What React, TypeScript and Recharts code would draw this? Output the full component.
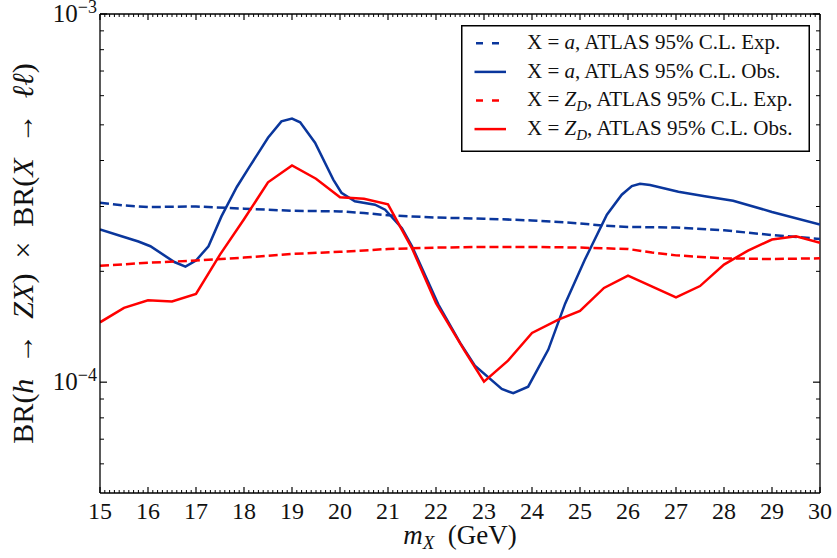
import React from 'react';
import { LineChart, Line, XAxis, YAxis, Legend, Label, ReferenceLine } from 'recharts';

const FONT = "'Liberation Serif', 'DejaVu Serif', serif";
const BLUE = '#0a369c';
const RED = '#ff0000';
const INK = '#111';

// Mass points m_X (GeV) and 95% C.L. upper limits, in units of 1e-4
const aExpMass = [15, 15.5, 16, 17, 18, 19, 20, 20.5, 21, 21.5, 22, 23, 24, 25, 25.5, 26, 27, 28, 29, 30];
const aExpLimit = [3.07, 3.02, 2.99, 3.0, 2.96, 2.92, 2.91, 2.88, 2.84, 2.82, 2.8, 2.78, 2.75, 2.7, 2.66, 2.64, 2.63, 2.585, 2.51, 2.45];

const aObsMass = [15, 15.45, 15.8, 16.05, 16.55, 16.78, 17.0, 17.26, 17.53, 17.85, 18.1, 18.5, 18.78, 19.0, 19.17, 19.48, 19.86, 20.03, 20.31, 20.73, 20.94, 21.29, 21.5, 22.05, 22.5, 22.81, 23.37, 23.61, 23.92, 24.34, 24.69, 25.1, 25.56, 25.87, 26.08, 26.25, 26.46, 27.05, 27.6, 28.19, 29.0, 30];
const aObsLimit = [2.6, 2.49, 2.41, 2.34, 2.12, 2.06, 2.14, 2.34, 2.82, 3.39, 3.82, 4.61, 5.11, 5.2, 5.08, 4.47, 3.55, 3.27, 3.1, 3.035, 2.94, 2.62, 2.34, 1.625, 1.28, 1.109, 0.958, 0.933, 0.972, 1.226, 1.634, 2.15, 2.85, 3.23, 3.41, 3.46, 3.43, 3.29, 3.2, 3.11, 2.9, 2.68];

const zdExpMass = [15, 16, 17, 18, 19, 20, 21, 22, 23, 24, 25, 26, 26.5, 27, 28, 29, 30];
const zdExpLimit = [2.07, 2.11, 2.14, 2.18, 2.23, 2.26, 2.3, 2.32, 2.33, 2.33, 2.32, 2.3, 2.25, 2.21, 2.17, 2.16, 2.17];

const zdObsMass = [15, 15.5, 16, 16.5, 17, 17.5, 18, 18.5, 19, 19.5, 20, 20.5, 21, 21.5, 22, 22.6, 23, 23.5, 24, 24.55, 25, 25.5, 26, 27, 27.5, 28, 28.5, 29, 29.5, 30];
const zdObsLimit = [1.454, 1.592, 1.668, 1.657, 1.736, 2.22, 2.77, 3.49, 3.88, 3.57, 3.18, 3.15, 3.04, 2.31, 1.64, 1.215, 1.003, 1.144, 1.36, 1.479, 1.561, 1.803, 1.948, 1.7, 1.824, 2.086, 2.277, 2.44, 2.49, 2.39];

// Axis ticks
const massTicks = [15, 16, 17, 18, 19, 20, 21, 22, 23, 24, 25, 26, 27, 28, 29, 30];
const minorMassTicks = Array.from({ length: 151 }, (_, i) => Math.round((15 + i * 0.1) * 10) / 10).filter(
  (v) => !massTicks.includes(v)
);
const limitTicks = [1e-4, 1e-3];
const limitExponents = [-4, -3];
const minorLimitTicks = [6e-5, 7e-5, 8e-5, 9e-5, 2e-4, 3e-4, 4e-4, 5e-4, 6e-4, 7e-4, 8e-4, 9e-4];

const MASS_DOMAIN: [number, number] = [15, 30];
const LIMIT_DOMAIN: [number, number] = [5e-5, 1e-3];

const toRows = (mass: number[], limit: number[]) => mass.map((m, i) => ({ mass: m, limit: limit[i] * 1e-4 }));

type Series = {
  key: string;
  rows: { mass: number; limit: number }[];
  color: string;
  dashed: boolean;
  particle: 'a' | 'ZD';
  kind: string;
};

const series: Series[] = [
  { key: 'aExp', rows: toRows(aExpMass, aExpLimit), color: BLUE, dashed: true, particle: 'a', kind: 'Exp.' },
  { key: 'aObs', rows: toRows(aObsMass, aObsLimit), color: BLUE, dashed: false, particle: 'a', kind: 'Obs.' },
  { key: 'zdExp', rows: toRows(zdExpMass, zdExpLimit), color: RED, dashed: true, particle: 'ZD', kind: 'Exp.' },
  { key: 'zdObs', rows: toRows(zdObsMass, zdObsLimit), color: RED, dashed: false, particle: 'ZD', kind: 'Obs.' },
];

// Inward tick marks on both ends of a vertical reference line (x ticks, top and bottom edges)
const xTickMarks = (len: number, width: number) => (p: any) => {
  const top = Math.min(p.y1, p.y2);
  const bottom = Math.max(p.y1, p.y2);
  return (
    <g>
      <line x1={p.x1} x2={p.x1} y1={bottom} y2={bottom - len} stroke="#000" strokeWidth={width} />
      <line x1={p.x1} x2={p.x1} y1={top} y2={top + len} stroke="#000" strokeWidth={width} />
    </g>
  );
};

// Inward tick marks on both ends of a horizontal reference line (y ticks, left and right edges)
const yTickMarks = (len: number, width: number) => (p: any) => {
  const left = Math.min(p.x1, p.x2);
  const right = Math.max(p.x1, p.x2);
  return (
    <g>
      <line x1={left} x2={left + len} y1={p.y1} y2={p.y1} stroke="#000" strokeWidth={width} />
      <line x1={right} x2={right - len} y1={p.y1} y2={p.y1} stroke="#000" strokeWidth={width} />
    </g>
  );
};

const PowerTick = (props: any) => {
  const { x, y, payload } = props;
  const idx = limitTicks.findIndex((t) => Math.abs(t - payload.value) / t < 1e-6);
  const exp = idx >= 0 ? limitExponents[idx] : Math.round(Math.log10(payload.value));
  return (
    <text x={x} y={y + 8} textAnchor="end" fontFamily={FONT} fontSize={25} fill={INK}>
      <tspan>10</tspan>
      <tspan dy={-9} fontSize={18}>{'\u2212' + Math.abs(exp)}</tspan>
    </text>
  );
};

const LegendBox = () => (
  <svg width={350} height={128} style={{ display: 'block' }}>
    <rect x={0.75} y={0.75} width={347.5} height={125.5} fill="#fff" stroke="#000" strokeWidth={1.5} />
    {series.map((s, i) => {
      const cy = 18.3 + i * 28.6;
      return (
        <g key={s.key}>
          {s.dashed ? (
            <line x1={15} x2={38} y1={cy} y2={cy} stroke={s.color} strokeWidth={2.5} strokeDasharray="7 9" />
          ) : (
            <line x1={13.5} x2={45} y1={cy} y2={cy} stroke={s.color} strokeWidth={2.5} />
          )}
          <text x={66} y={cy + 5.8} fontFamily={FONT} fontSize={21} fill={INK}>
            <tspan>{'X = '}</tspan>
            {s.particle === 'a' ? (
              <>
                <tspan fontStyle="italic">a</tspan>
                <tspan>{', ATLAS 95% C.L. ' + s.kind}</tspan>
              </>
            ) : (
              <>
                <tspan fontStyle="italic">Z</tspan>
                <tspan fontStyle="italic" fontSize={15} dy={5}>D</tspan>
                <tspan dy={-5}>{', ATLAS 95% C.L. ' + s.kind}</tspan>
              </>
            )}
          </text>
        </g>
      );
    })}
  </svg>
);

const XTitle = (props: any) => {
  const { viewBox } = props;
  const cx = viewBox.x + viewBox.width / 2;
  return (
    <text x={cx} y={viewBox.y + 51} textAnchor="middle" fontFamily={FONT} fontSize={27} fill={INK}>
      <tspan fontStyle="italic">m</tspan>
      <tspan fontStyle="italic" fontSize={19} dy={5}>X</tspan>
      <tspan dy={-5}>{'\u2002(GeV)'}</tspan>
    </text>
  );
};

const YTitle = (props: any) => {
  const { viewBox } = props;
  const cy = viewBox.y + viewBox.height / 2;
  const bx = 33;
  return (
    <text
      x={bx}
      y={cy}
      transform={`rotate(-90, ${bx}, ${cy})`}
      textAnchor="middle"
      fontFamily={FONT}
      fontSize={30}
      fill={INK}
    >
      <tspan>BR(</tspan>
      <tspan fontStyle="italic">h</tspan>
      <tspan>{'\u2002\u2192\u2002'}</tspan>
      <tspan fontStyle="italic">ZX</tspan>
      <tspan>{')\u2002\u00d7\u2002BR('}</tspan>
      <tspan fontStyle="italic">X</tspan>
      <tspan>{'\u2002\u2192\u2002'}</tspan>
      <tspan fontStyle="italic">{'\u2113\u2113'}</tspan>
      <tspan>)</tspan>
    </text>
  );
};

const frame = { stroke: '#000', strokeWidth: 1.3 };

export default function App() {
  return (
    <div style={{ position: 'absolute', left: 0, top: 0, width: 837, height: 558, background: '#fff' }}>
      <LineChart width={837} height={558} margin={{ top: 14, right: 17, bottom: 0, left: 0 }}>
        <XAxis
          type="number"
          dataKey="mass"
          domain={MASS_DOMAIN}
          allowDataOverflow
          ticks={massTicks}
          interval={0}
          height={65}
          tickSize={0}
          tickMargin={9}
          tick={{ fill: INK, fontSize: 24, fontFamily: FONT }}
          tickLine={false}
          axisLine={frame}
          label={<Label content={<XTitle />} />}
        />
        <YAxis
          type="number"
          scale="log"
          domain={LIMIT_DOMAIN}
          allowDataOverflow
          ticks={limitTicks}
          interval={0}
          width={100}
          tickSize={0}
          tickMargin={3}
          tick={<PowerTick />}
          tickLine={false}
          axisLine={frame}
          label={<Label content={<YTitle />} />}
        />
        {/* top and right edges of the frame */}
        <ReferenceLine y={LIMIT_DOMAIN[1]} stroke="#000" strokeWidth={1.3} />
        <ReferenceLine x={MASS_DOMAIN[1]} stroke="#000" strokeWidth={1.3} />
        {/* inward ticks on all four edges */}
        {minorMassTicks.map((v) => (
          <ReferenceLine key={`mx${v}`} x={v} stroke="none" shape={xTickMarks(3, 1)} />
        ))}
        {massTicks.map((v) => (
          <ReferenceLine key={`Mx${v}`} x={v} stroke="none" shape={xTickMarks(6, 1.2)} />
        ))}
        {minorLimitTicks.map((v) => (
          <ReferenceLine key={`my${v}`} y={v} stroke="none" shape={yTickMarks(4, 1)} />
        ))}
        {limitTicks.map((v) => (
          <ReferenceLine key={`My${v}`} y={v} stroke="none" shape={yTickMarks(7, 1.2)} />
        ))}
        {series.map((s) => (
          <Line
            key={s.key}
            data={s.rows}
            dataKey="limit"
            type="linear"
            stroke={s.color}
            strokeWidth={2.5}
            strokeDasharray={s.dashed ? '9 4' : undefined}
            dot={false}
            activeDot={false}
            isAnimationActive={false}
          />
        ))}
        <Legend
          layout="vertical"
          align="center"
          verticalAlign="middle"
          content={() => <LegendBox />}
          wrapperStyle={{ position: 'absolute', left: 461, top: 25, width: 350, height: 128 }}
        />
      </LineChart>
    </div>
  );
}
